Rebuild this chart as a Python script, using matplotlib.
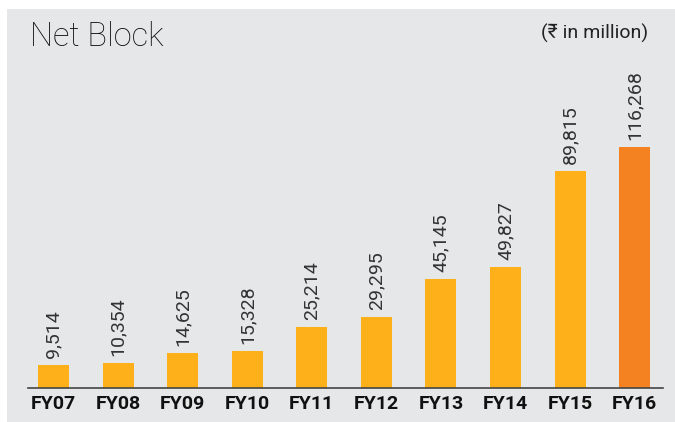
import matplotlib.pyplot as plt
from matplotlib.patches import Rectangle

# data
years = ['FY07', 'FY08', 'FY09', 'FY10', 'FY11', 'FY12', 'FY13', 'FY14', 'FY15', 'FY16']
net_block = [9514, 10354, 14625, 15328, 25214, 29295, 45145, 49827, 89815, 116268]
labels = ['9,514', '10,354', '14,625', '15,328', '25,214', '29,295',
          '45,145', '49,827', '89,815', '116,268']
# the reference draws the tallest bar shortened to leave room for the header
fy16_drawn = 99600
bar_heights = net_block[:-1] + [fy16_drawn]

bar_color = '#FDB01A'
last_color = '#F58220'
panel_color = '#E6E7E8'

fig = plt.figure(figsize=(6.75, 4.22), dpi=100)

# grey panel behind everything
fig.patches.append(Rectangle((7 / 675, 0), 1, 1 - 9 / 422, transform=fig.transFigure,
                             facecolor=panel_color, edgecolor='none', zorder=-10))

ax = fig.add_axes([28 / 675, 34 / 422, 635 / 675, 328 / 422])
ax.set_zorder(5)
ax.set_facecolor('none')

colors = [bar_color] * (len(years) - 1) + [last_color]
bars = ax.bar(range(len(years)), bar_heights, width=0.48, color=colors, zorder=2)

for b, txt in zip(bars, labels):
    ax.annotate(txt, (b.get_x() + b.get_width() / 2, b.get_height()),
                xytext=(0, 5), textcoords='offset points', rotation=90,
                ha='center', va='bottom', fontsize=14, color='#333333',
                family=['Roboto', 'DejaVu Sans'], fontweight='normal')

ax.set_xlim(-0.395, 9.44)
ax.set_ylim(0, 135500)
ax.set_xticks(range(len(years)))
ax.set_xticklabels(years, fontsize=14, fontweight='bold', color='#111111',
                   family=['Roboto', 'DejaVu Sans'])
ax.tick_params(axis='x', length=0, pad=5)
ax.set_yticks([])
for side in ['top', 'right', 'left']:
    ax.spines[side].set_visible(False)
ax.spines['bottom'].set_color('#444444')
ax.spines['bottom'].set_linewidth(1.2)

fig.text(30 / 675, 1 - 37 / 422, 'Net Block', fontsize=23.5, fontweight='light',
         family=['Roboto', 'DejaVu Sans'], color='#111111', va='center', ha='left')
fig.text(648 / 675, 1 - 33 / 422, '(₹ in million)', fontsize=14, fontweight='normal',
         family=['Roboto', 'DejaVu Sans'], color='#222222', va='center', ha='right')

fig.savefig('out.png', dpi=100)
